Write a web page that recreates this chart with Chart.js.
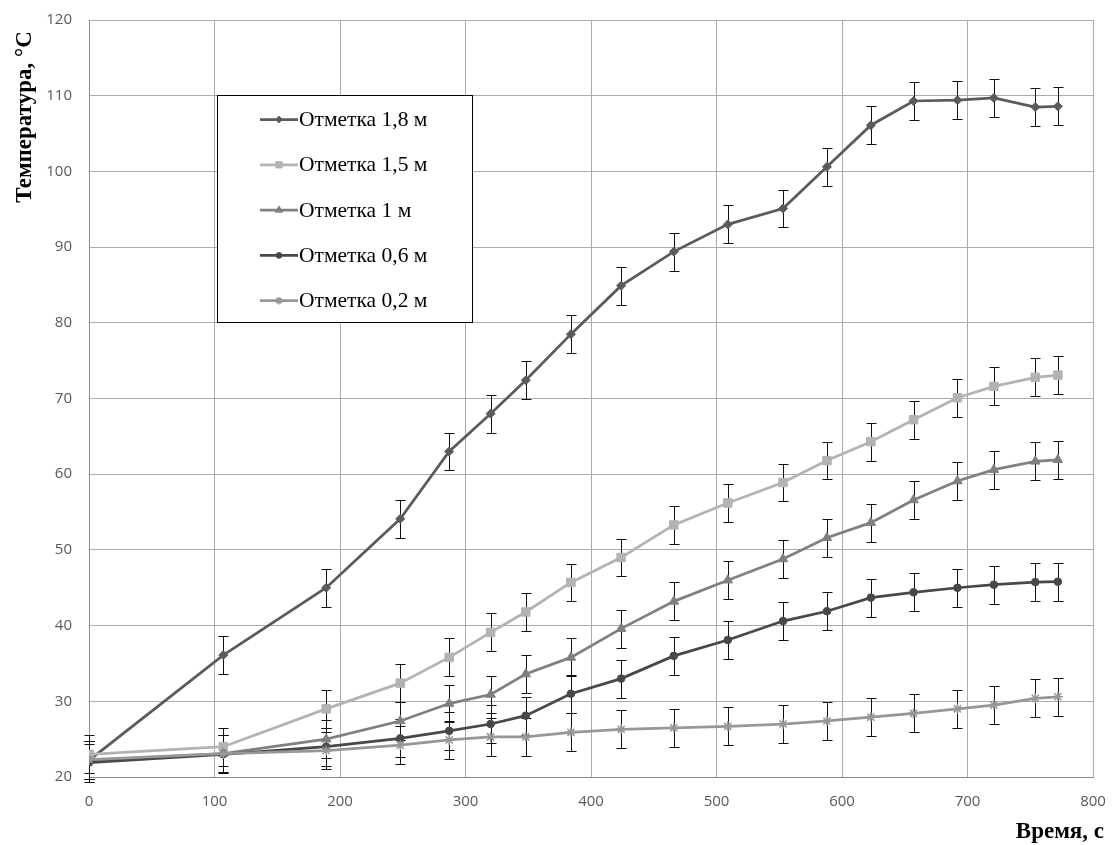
<!DOCTYPE html>
<html>
<head>
<meta charset="utf-8">
<script src="https://cdn.jsdelivr.net/npm/chart.js@4/dist/chart.umd.min.js"></script>
<style>
  html, body { margin: 0; padding: 0; background: #ffffff; }
  #wrap { width: 1116px; height: 845px; position: relative; }
</style>
</head>
<body>
<div id="wrap"><canvas id="c" width="1116" height="845"></canvas></div>
<script>
// ---- data ----
const times = [0, 107, 189, 248, 287, 320, 348, 384, 424, 466, 509, 553, 588, 623, 657, 692, 721, 754, 772];
const seriesNames = ['Отметка 1,8 м', 'Отметка 1,5 м', 'Отметка 1 м', 'Отметка 0,6 м', 'Отметка 0,2 м'];
const temp18 = [22.2, 36.1, 45.0, 54.1, 63.0, 68.0, 72.4, 78.5, 84.9, 89.4, 93.0, 95.1, 100.6, 106.1, 109.3, 109.4, 109.7, 108.5, 108.6];
const temp15 = [23.0, 24.0, 29.0, 32.4, 35.8, 39.1, 41.8, 45.7, 49.0, 53.3, 56.2, 58.9, 61.8, 64.3, 67.2, 70.1, 71.6, 72.8, 73.1];
const temp10 = [22.2, 23.1, 25.0, 27.4, 29.7, 30.9, 33.6, 35.8, 39.6, 43.2, 46.0, 48.8, 51.6, 53.6, 56.6, 59.1, 60.6, 61.7, 61.9];
const temp06 = [21.9, 23.0, 24.0, 25.1, 26.1, 27.0, 28.1, 31.0, 33.0, 36.0, 38.1, 40.6, 41.9, 43.7, 44.4, 45.0, 45.4, 45.75, 45.8];
const temp02 = [22.3, 23.1, 23.5, 24.2, 24.9, 25.3, 25.3, 25.9, 26.3, 26.5, 26.7, 27.0, 27.4, 27.9, 28.4, 29.0, 29.5, 30.4, 30.6];
const errorMargins = [2.5, 2.5, 2.5, 2.5, 2.5];
const xTicks = [0, 100, 200, 300, 400, 500, 600, 700, 800];
const yTicks = [20, 30, 40, 50, 60, 70, 80, 90, 100, 110, 120];
const xTitle = 'Время, с';
const yTitle = 'Температура, °C';

// ---- styles ----
const colors = ['#5b5b5b', '#b3b3b3', '#808080', '#484848', '#979797'];
const pointStyles = ['rectRot', 'rect', 'triangle', 'circle', 'star'];
const pointRadii = [4.5, 6, 5.5, 3.8, 5];
const allSeries = [temp18, temp15, temp10, temp06, temp02];

function toXY(vals) { return vals.map((v, i) => ({ x: times[i], y: v })); }

const datasets = allSeries.map((vals, k) => ({
  label: seriesNames[k],
  data: toXY(vals),
  borderColor: colors[k],
  backgroundColor: colors[k],
  borderWidth: 2.75,
  pointStyle: pointStyles[k],
  pointRadius: pointRadii[k],
  pointBorderWidth: k === 4 ? 1.6 : 1,
  pointBorderColor: colors[k],
  pointBackgroundColor: colors[k],
  tension: 0,
  order: 5 - k,
  errMargin: errorMargins[k]
}));

const errorBarPlugin = {
  id: 'errorBars',
  beforeDatasetsDraw(chart) {
    const ctx = chart.ctx;
    const ys = chart.scales.y;
    ctx.save();
    ctx.strokeStyle = '#111111';
    ctx.lineWidth = 1;
    chart.data.datasets.forEach((ds, di) => {
      const meta = chart.getDatasetMeta(di);
      meta.data.forEach((pt, i) => {
        const v = ds.data[i].y;
        const x = Math.round(pt.x) + 0.5;
        const yTop = Math.round(ys.getPixelForValue(v + ds.errMargin)) + 0.5;
        const yBot = Math.round(ys.getPixelForValue(v - ds.errMargin)) + 0.5;
        ctx.beginPath();
        ctx.moveTo(x, yTop); ctx.lineTo(x, yBot);
        ctx.moveTo(x - 5, yTop); ctx.lineTo(x + 5, yTop);
        ctx.moveTo(x - 5, yBot); ctx.lineTo(x + 5, yBot);
        ctx.stroke();
      });
    });
    ctx.restore();
  }
};

const annotationsPlugin = {
  id: 'customText',
  afterDraw(chart) {
    const ctx = chart.ctx;
    ctx.save();
    // axis titles
    ctx.fillStyle = '#000000';
    ctx.font = 'bold 23px "Liberation Serif", "DejaVu Serif", serif';
    ctx.textAlign = 'right';
    ctx.textBaseline = 'middle';
    ctx.fillText(xTitle, 1104, 832);
    ctx.save();
    ctx.translate(25, 117);
    ctx.rotate(-Math.PI / 2);
    ctx.textAlign = 'center';
    ctx.fillText(yTitle, 0, 0);
    ctx.restore();

    // legend
    const bx = 217.5, by = 95.5, bw = 255, bh = 227;
    ctx.fillStyle = '#ffffff';
    ctx.fillRect(bx, by, bw, bh);
    ctx.strokeStyle = '#000000';
    ctx.lineWidth = 1;
    ctx.strokeRect(bx, by, bw, bh);
    ctx.font = '21.5px "Liberation Serif", "DejaVu Serif", serif';
    ctx.textAlign = 'left';
    ctx.textBaseline = 'middle';
    chart.data.datasets.forEach((ds, k) => {
      const y = 119.5 + k * 45.3;
      ctx.strokeStyle = ds.borderColor;
      ctx.lineWidth = 2.75;
      ctx.beginPath();
      ctx.moveTo(260, y); ctx.lineTo(298, y);
      ctx.stroke();
      ctx.fillStyle = ds.borderColor;
      ctx.strokeStyle = ds.borderColor;
      ctx.lineWidth = ds.pointBorderWidth;
      Chart.helpers.drawPoint(ctx, {
        pointStyle: ds.pointStyle,
        radius: ds.pointRadius * 0.75,
        rotation: 0,
        borderWidth: ds.pointBorderWidth
      }, 279, y);
      ctx.fillStyle = '#000000';
      ctx.fillText(ds.label, 299, y + 1);
    });
    ctx.restore();
  }
};

new Chart(document.getElementById('c'), {
  type: 'line',
  data: { datasets },
  plugins: [errorBarPlugin, annotationsPlugin],
  options: {
    responsive: false,
    devicePixelRatio: 1,
    animation: false,
    layout: { padding: { top: 20, right: 23, left: 0, bottom: 0 } },
    plugins: { legend: { display: false }, tooltip: { enabled: false } },
    scales: {
      x: {
        type: 'linear',
        min: 0, max: 800,
        afterBuildTicks(scale) { scale.ticks = xTicks.map(v => ({ value: v })); },
        afterFit(scale) {
          scale.height = 68;
          scale.paddingLeft = 0; scale.paddingRight = 0;
          scale.paddingTop = 0; scale.paddingBottom = 0;
        },
        grid: { color: '#ababab', lineWidth: 1, drawTicks: false },
        border: { color: '#8a8a8a', width: 1 },
        ticks: {
          padding: 16,
          color: '#595959',
          font: { family: '"Open Sans", "Liberation Sans", sans-serif', size: 15 },
          maxRotation: 0
        }
      },
      y: {
        type: 'linear',
        min: 20, max: 120,
        afterBuildTicks(scale) { scale.ticks = yTicks.map(v => ({ value: v })); },
        afterFit(scale) {
          scale.width = 89;
          scale.paddingLeft = 0; scale.paddingRight = 0;
          scale.paddingTop = 0; scale.paddingBottom = 0;
        },
        grid: { color: '#ababab', lineWidth: 1, drawTicks: false },
        border: { color: '#8a8a8a', width: 1 },
        ticks: {
          padding: 17,
          color: '#595959',
          font: { family: '"Open Sans", "Liberation Sans", sans-serif', size: 15 }
        }
      }
    }
  }
});
</script>
</body>
</html>
